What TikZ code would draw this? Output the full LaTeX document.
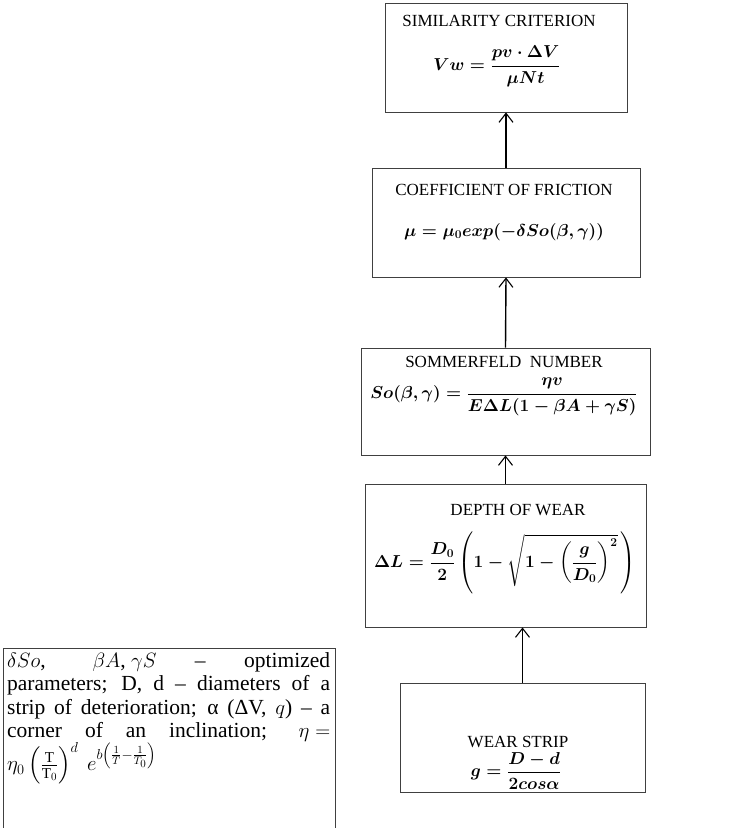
\documentclass[tikz,border=0pt]{standalone}
\usepackage{amsmath}
\usepackage{fontspec}
\setmainfont{Liberation Serif}
\usetikzlibrary{arrows.meta, positioning}

\begin{document}
\begin{tikzpicture}[x=1pt, y=-1pt,
  frame/.style={draw=black!75, line width=0.9pt},
  box/.style={frame, rectangle, inner sep=0pt},
  head/.style={font=\fontsize{17}{20}\selectfont},
  formula/.style={font=\fontsize{18.5}{21}\selectfont\boldmath},
  up/.style={line width=1.4pt, -{Straight Barb[length=9pt, width=14pt, line width=1.1pt]}}]
\useasboundingbox (0,0) rectangle (747,828);

% boxes, top to bottom
\node[box, minimum width=242pt, minimum height=109pt] (sim)   at (506,57.5)  {};
\node[box, minimum width=268pt, minimum height=109pt] (fric)  at (506,222.5) {};
\node[box, minimum width=289pt, minimum height=107pt] (somm)  at (505.5,401.5) {};
\node[box, minimum width=281pt, minimum height=143pt] (depth) at (505.5,555.5) {};
\node[box, minimum width=245pt, minimum height=109pt] (strip) at (522.5,737.5) {};

% texts
\node[head] (simhead) at (499,21) {SIMILARITY CRITERION};
\node[formula] (simform) at (497,66) {$Vw = \dfrac{pv\cdot\Delta V\vphantom{|}}{\mu Nt\vphantom{|}}$};

\node[head] (frichead) at (504,190) {COEFFICIENT OF FRICTION};
\node[formula] (fricform) at (504,232) {$\mu = \mu_0 exp(-\delta So(\beta,\gamma))$};

\node[head] (sommhead) at (504,362) {SOMMERFELD\ \ NUMBER};
\node[formula] (sommform) at (504,397) {$So(\beta,\gamma) = \dfrac{\eta v}{E\Delta L(1-\beta A+\gamma S)}$};

\node[head] (depthhead) at (518,510) {DEPTH OF WEAR};
\node[formula] (depthform) at (505,563)
  {$\Delta L = \dfrac{D_0}{2}\left(1-\sqrt{1-\left(\dfrac{g}{D_0}\right)^{2}}\,\right)$};

\node[head] (striphead) at (518,742) {WEAR STRIP};
\node[formula] (stripform) at (516,771) {$g = \dfrac{D-d}{2cos\alpha}$};

% arrows
\draw[up] (fric.north) -- (sim.south);
\draw[up] (somm.north) -- (fric.south);
\draw[up] (depth.north) -- (somm.south);
\draw[up] (strip.north) -- (strip.north |- depth.south);

% notes (box open at the bottom)
\coordinate (nbl) at (3,828);
\coordinate (ntr) at (335,648);
\draw[frame] (nbl) |- (ntr) -- (ntr |- nbl);
\node[anchor=north west, inner sep=0pt, text width=323pt, align=justify,
      font=\fontsize{21.5}{23.5}\selectfont] (notes) at (7,652)
  {$\delta So$, \mbox{$\beta A$, $\gamma S$} – optimized\linebreak
   parameters; D, d – diameters of a\linebreak
   strip of deterioration; α (ΔV, $q$) – a\linebreak
   corner of an inclination; \mbox{$\eta =$}\linebreak
   $\eta_0\left(\frac{\mathrm{T}}{\mathrm{T}_0}\right)^{d}\ e^{b\left(\frac{1}{T}-\frac{1}{T_0}\right)}$};
\end{tikzpicture}
\end{document}
